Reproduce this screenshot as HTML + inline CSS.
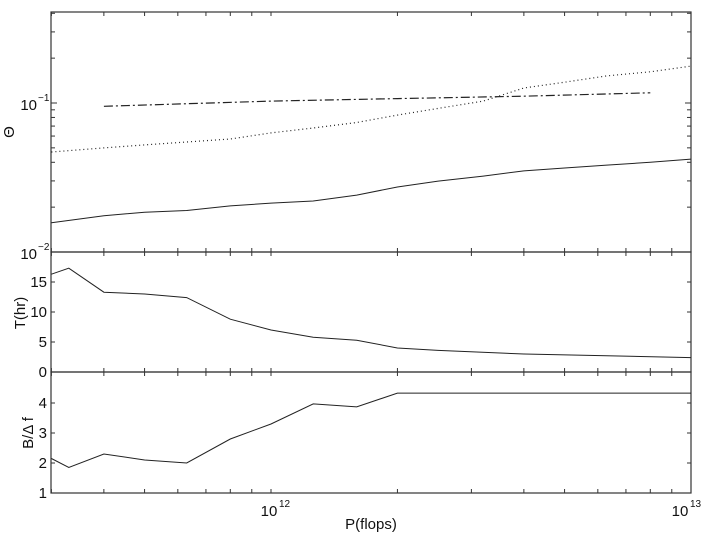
<!DOCTYPE html>
<html><head><meta charset="utf-8"><style>
body{margin:0;background:#fff;}
svg{display:block;font-family:"Liberation Sans",sans-serif;}
</style></head><body>
<svg id="chart" width="709" height="535" viewBox="0 0 709 535" xmlns="http://www.w3.org/2000/svg"></svg>
<script>
const xVals=[3e11,4e11,5e11,6.3e11,8e11,1e12,1.26e12,1.6e12,2e12,2.5e12,3.2e12,4e12,5e12,6.3e12,8e12,1e13];
const thetaSolid=[0.0157,0.0175,0.0185,0.019,0.0204,0.0213,0.022,0.0241,0.0273,0.0299,0.0323,0.035,0.0366,0.0383,0.040,0.042];
const thetaDotted=[0.0469,0.050,0.0523,0.0547,0.0573,0.063,0.068,0.074,0.083,0.092,0.103,0.126,0.138,0.152,0.162,0.177];
const dashX=[4e11,1e12,2e12,4e12,8e12];
const thetaDash=[0.095,0.103,0.107,0.111,0.117];
const tX=[3e11,3.3e11,4e11,5e11,6.3e11,8e11,1e12,1.26e12,1.6e12,2e12,2.5e12,4e12,6.3e12,1e13];
const tVals=[16.3,17.3,13.3,13.0,12.4,8.8,7.0,5.8,5.3,4.0,3.6,3.0,2.7,2.4];
const bX=[3e11,3.3e11,4e11,5e11,6.3e11,8e11,1e12,1.26e12,1.6e12,2e12,1e13];
const bVals=[2.15,1.85,2.3,2.1,2.0,2.8,3.3,3.97,3.87,4.33,4.33];
const tTicks=[0,5,10,15];
const bTicks=[1,2,3,4];

const svg=document.getElementById('chart');
const NS='http://www.w3.org/2000/svg';
const L=51,R=691;
const xs=v=>271+(Math.log10(v)-12)*420;
const P1={t:12,b:252}, P2={t:252,b:372}, P3={t:372,b:493};
const y1=v=>252-(Math.log10(v)+2)*149;
const y2=v=>372-v*6;
const y3=v=>493-(v-1)*30;
function mk(tag,attrs,parent){const e=document.createElementNS(NS,tag);for(const k in attrs)e.setAttribute(k,attrs[k]);(parent||svg).appendChild(e);return e;}
function line(x1,y1_,x2,y2_,nm){const e=mk('line',{x1:x1,y1:y1_,x2:x2,y2:y2_,stroke:'#333','stroke-width':1});

return e;}
function text(x,y,s,nm,anchor,size){const e=mk('text',{x:x,y:y,'font-size':size||15,'text-anchor':anchor||'middle',fill:'#111'});e.textContent=s;

return e;}
function path(xa,ya,fx,fy,dash,nm){let d='';xa.forEach((x,i)=>{d+=(i?'L':'M')+fx(x).toFixed(1)+' '+fy(ya[i]).toFixed(1);});
const e=mk('path',{d:d,fill:'none',stroke:'#222','stroke-width':dash?1.2:1,'stroke-dasharray':dash||'none'});

return e;}
const xTicks=[];
for(let dec=11;dec<=12;dec++)for(let m=1;m<=9;m++){const v=m*Math.pow(10,dec);if(v>=3e11&&v<=1e13)xTicks.push(v);}
xTicks.push(1e13);
[P1,P2,P3].forEach((p,i)=>{
  const r=mk('rect',{x:L,y:p.t,width:R-L,height:p.b-p.t,fill:'none',stroke:'#333','stroke-width':1.2});
  
  
  xTicks.forEach(v=>{const x=xs(v);line(x,p.t,x,p.t+4,'x-tick');line(x,p.b,x,p.b-4,'x-tick');});
});
for(let dec=-2;dec<=-1;dec++)for(let m=1;m<=9;m++){const v=m*Math.pow(10,dec);const y=y1(v);if(y<P1.t)continue;const len=m==1?6:4;line(L,y,L+len,y,'y-tick-theta');line(R,y,R-len,y,'y-tick-theta');}
text(37,259,'10','y-tick-label','end');text(38,250,'−2','y-tick-exp','start',10);
text(37,110,'10','y-tick-label','end');text(38,101,'−1','y-tick-exp','start',10);
tTicks.forEach(v=>{const y=y2(v);line(L,y,L+4,y,'y-tick-t');line(R,y,R-4,y,'y-tick-t');text(47,y+5,String(v),'y-tick-label-t','end');});
bTicks.forEach(v=>{const y=y3(v);line(L,y,L+4,y,'y-tick-b');line(R,y,R-4,y,'y-tick-b');text(47,y+5,String(v),'y-tick-label-b','end');});
text(269,516,'10','x-tick-label');text(279,507,'12','x-tick-exp','start',10);
text(680,516,'10','x-tick-label');text(690,507,'13','x-tick-exp','start',10);
text(371,529,'P(flops)','x-axis-title','middle',15);
let t=text(0,0,'Θ','y-axis-title-theta','middle',15);t.setAttribute('transform','translate(14,132) rotate(-90)');
t=text(0,0,'T(hr)','y-axis-title-t','middle',15);t.setAttribute('transform','translate(25,313) rotate(-90)');
t=text(0,0,'B/Δ f','y-axis-title-b','middle',15);t.setAttribute('transform','translate(33,433) rotate(-90)');
path(xVals,thetaSolid,xs,y1,null,'theta-solid-line');
path(xVals,thetaDotted,xs,y1,'1 3','theta-dotted-line');
path(dashX,thetaDash,xs,y1,'9 3 2 3','theta-dashdot-line');
path(tX,tVals,xs,y2,null,'t-line');
path(bX,bVals,xs,y3,null,'b-line');
</script>
</body></html>
